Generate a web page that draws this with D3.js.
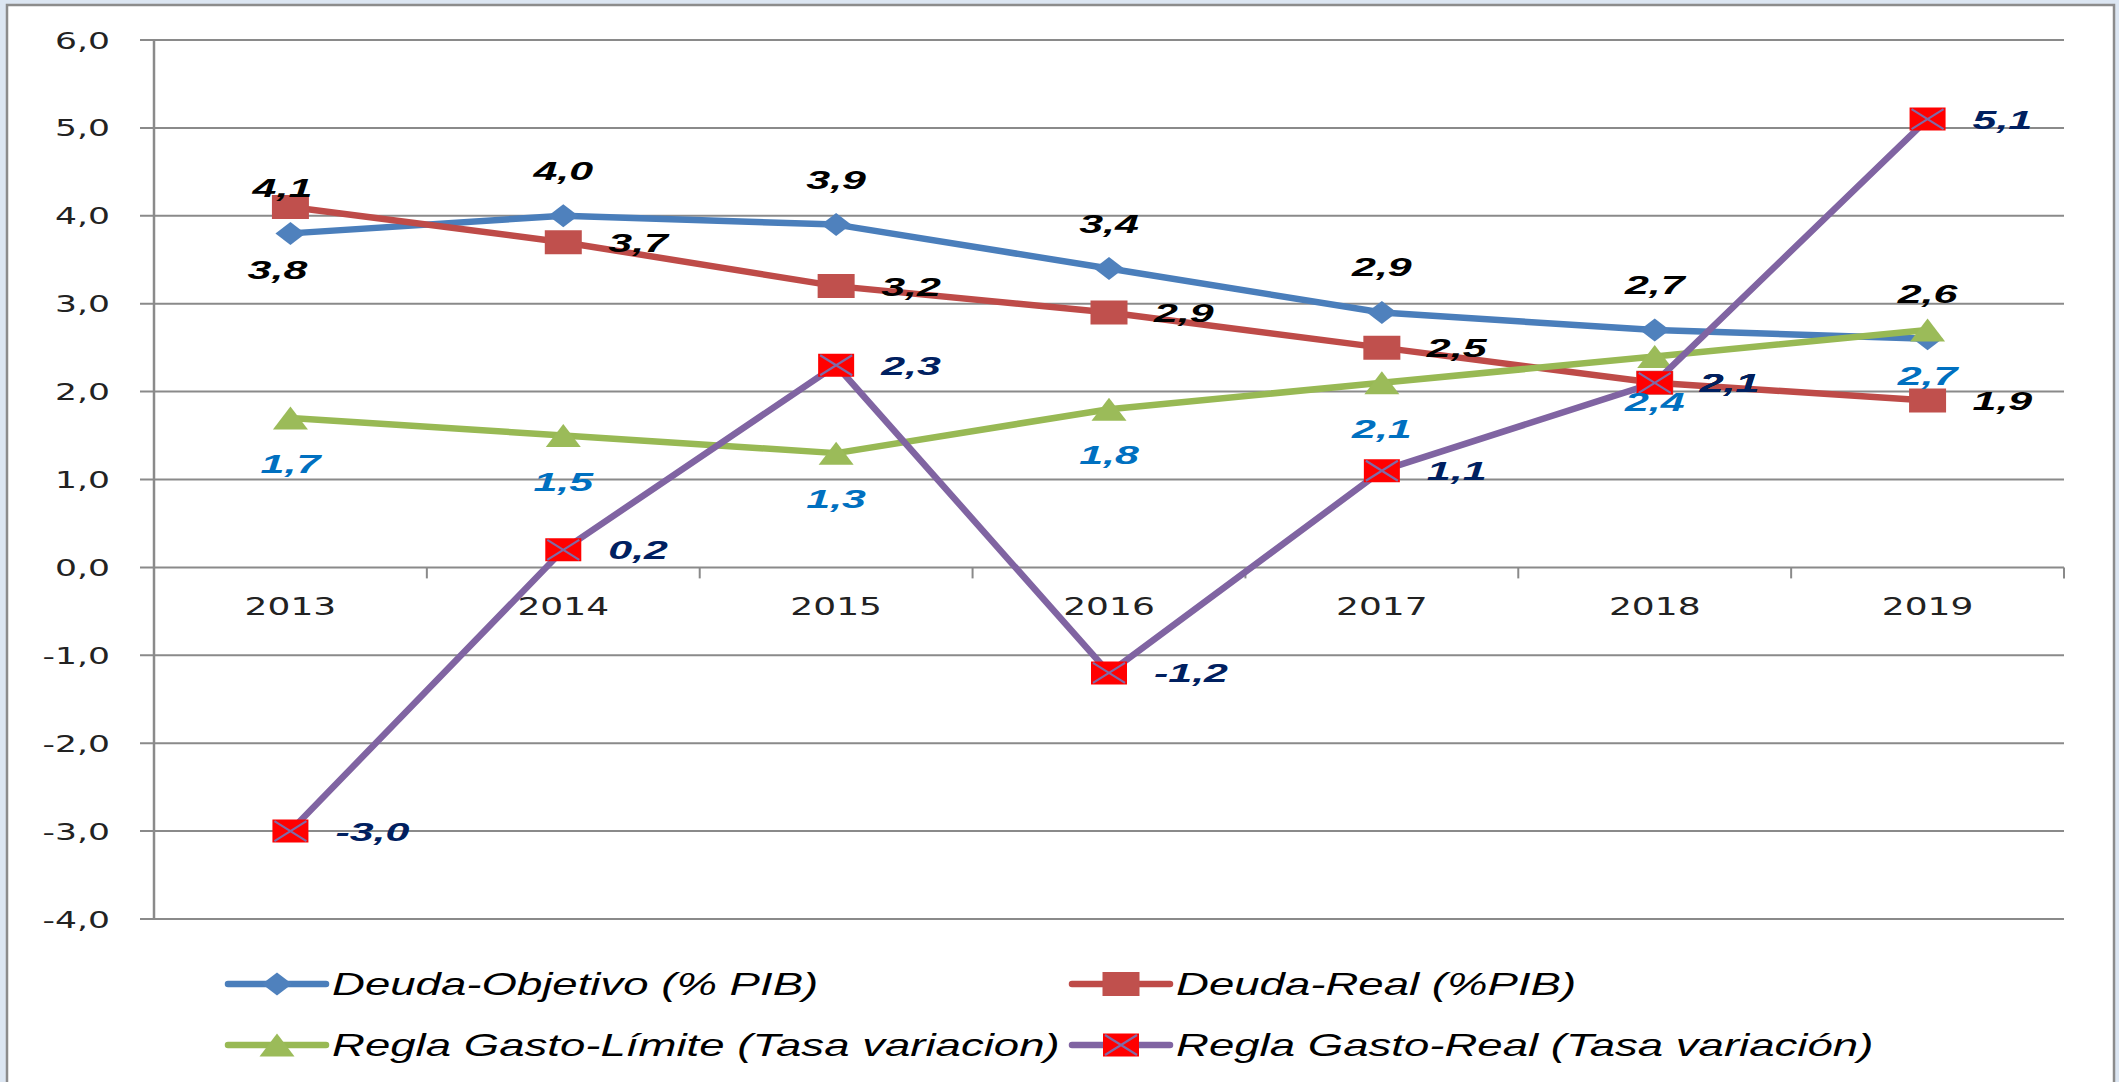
<!DOCTYPE html>
<html>
<head>
<meta charset="utf-8">
<script src="https://cdn.jsdelivr.net/npm/d3@7"></script>
<style>
  html, body { margin: 0; padding: 0; background: #dce6f2; }
  svg { display: block; }
</style>
</head>
<body>
<div id="chart"></div>
<script>
// ---------------- data ----------------
const years = ["2013", "2014", "2015", "2016", "2017", "2018", "2019"];
const deudaObjetivo = [3.8, 4.0, 3.9, 3.4, 2.9, 2.7, 2.6];
const deudaReal = [4.1, 3.7, 3.2, 2.9, 2.5, 2.1, 1.9];
const reglaLimite = [1.7, 1.5, 1.3, 1.8, 2.1, 2.4, 2.7];
const reglaReal = [-3.0, 0.2, 2.3, -1.2, 1.1, 2.1, 5.1];
const yTicks = [-4, -3, -2, -1, 0, 1, 2, 3, 4, 5, 6];
const seriesNames = [
  "Deuda-Objetivo (% PIB)",
  "Deuda-Real (%PIB)",
  "Regla Gasto-Límite (Tasa variacion)",
  "Regla Gasto-Real (Tasa variación)"
];
// where each value label sits relative to its point
const objetivoSides = ["below", "above", "above", "above", "above", "above", "above"];
const realSides = ["above", "right", "right", "right", "right", "right", "right"];
const limiteSides = ["below", "below", "below", "below", "below", "below", "below"];
const gastoRealSides = ["right", "right", "right", "right", "right", "right", "right"];

// ---------------- setup ----------------
const W = 2119, H = 1082;
const SX = 1.47;   // the original picture is stretched horizontally
const fmt = d3.formatLocale({ decimal: ",", thousands: ".", grouping: [3], currency: ["", ""], minus: "-" }).format(".1f");

const svg = d3.select("#chart").append("svg")
  .attr("width", W)
  .attr("height", H);

svg.append("rect")
  .attr("x", 7).attr("y", 5)
  .attr("width", 2107).attr("height", 1090)
  .attr("fill", "#fff")
  .attr("stroke", "#8c8c8c")
  .attr("stroke-width", 2.5);

const x = d3.scaleBand().domain(years).range([154, 2064]);
const y = d3.scaleLinear().domain([-4, 6]).range([919, 40]);
const cx = d => x(d) + x.bandwidth() / 2;

// ---------------- grid / axes ----------------
svg.append("g").selectAll("line")
  .data(yTicks)
  .enter().append("line")
    .attr("x1", 140).attr("x2", 2064)
    .attr("y1", d => y(d)).attr("y2", d => y(d))
    .attr("stroke", "#8a8a8a")
    .attr("stroke-width", 2);

svg.append("line")
  .attr("x1", 154).attr("x2", 154)
  .attr("y1", y(6)).attr("y2", y(-4))
  .attr("stroke", "#8a8a8a")
  .attr("stroke-width", 2.5);

// category boundary ticks on the zero line
svg.append("g").selectAll("line")
  .data(d3.range(years.length + 1))
  .enter().append("line")
    .attr("x1", i => 154 + i * x.step()).attr("x2", i => 154 + i * x.step())
    .attr("y1", y(0)).attr("y2", y(0) + 11)
    .attr("stroke", "#8a8a8a")
    .attr("stroke-width", 2);

svg.append("g").selectAll("text")
  .data(yTicks)
  .enter().append("text")
    .attr("transform", d => `translate(110, ${y(d) + 8.5}) scale(${SX},1)`)
    .attr("text-anchor", "end")
    .style("font-family", "'DejaVu Sans', Verdana, sans-serif")
    .style("font-size", "23.5px")
    .style("fill", "#222")
    .text(d => fmt(d));

svg.append("g").selectAll("text")
  .data(years)
  .enter().append("text")
    .attr("transform", d => `translate(${cx(d)}, 615) scale(${SX},1)`)
    .attr("text-anchor", "middle")
    .style("font-family", "'DejaVu Sans', Verdana, sans-serif")
    .style("font-size", "24.5px")
    .style("fill", "#222")
    .text(d => d);

// ---------------- markers ----------------
const markerPaths = {
  diamond: (w, h) => `M0,${-h / 2}L${w / 2},0L0,${h / 2}L${-w / 2},0Z`,
  square: (w, h) => `M${-w / 2},${-h / 2}H${w / 2}V${h / 2}H${-w / 2}Z`,
  triangle: (w, h) => `M0,${-h / 2}L${w / 2},${h / 2}L${-w / 2},${h / 2}Z`
};

function drawMarker(g, s) {
  if (s.marker === "xsquare") {
    g.append("path").attr("d", markerPaths.square(36, 23)).attr("fill", "#ff0000");
    g.append("path")
      .attr("d", "M-16,-10L16,10M-16,10L16,-10")
      .attr("stroke", "#7f6aa6")
      .attr("stroke-width", 2.2);
  } else {
    g.append("path").attr("d", markerPaths[s.marker](s.mw, s.mh)).attr("fill", s.fill);
  }
}

const series = [
  { name: seriesNames[0], values: deudaObjetivo, color: "#4a7ebb", fill: "#4f81bd", marker: "diamond", mw: 30, mh: 23,
    sides: objetivoSides, labelColor: "#000", above: -36, below: 46, belowDx: -13, aboveDx: 0 },
  { name: seriesNames[1], values: deudaReal, color: "#be4b48", fill: "#c0504d", marker: "square", mw: 37, mh: 24,
    sides: realSides, labelColor: "#000", above: -10, below: 46, belowDx: 0, aboveDx: -8 },
  { name: seriesNames[2], values: reglaLimite, color: "#98b954", fill: "#9bbb59", marker: "triangle", mw: 35, mh: 23,
    sides: limiteSides, labelColor: "#0070c0", above: -36, below: 55, belowDx: 0, aboveDx: 0 },
  { name: seriesNames[3], values: reglaReal, color: "#8064a2", fill: "#ff0000", marker: "xsquare", mw: 36, mh: 23,
    sides: gastoRealSides, labelColor: "#002060", above: -36, below: 46, belowDx: 0, aboveDx: 0 }
];

const line = d3.line()
  .x((d, i) => cx(years[i]))
  .y(d => y(d));

series.forEach(s => {
  svg.append("path")
    .datum(s.values)
    .attr("d", line)
    .attr("fill", "none")
    .attr("stroke", s.color)
    .attr("stroke-width", 6.5)
    .attr("stroke-linejoin", "round");

  svg.append("g").selectAll("g")
    .data(s.values)
    .enter().append("g")
      .attr("transform", (d, i) => `translate(${cx(years[i])}, ${y(d)})`)
      .each(function () { drawMarker(d3.select(this), s); });
});

// ---------------- value labels ----------------
series.forEach(s => {
  svg.append("g").selectAll("text")
    .data(s.values)
    .enter().append("text")
      .attr("transform", (d, i) => {
        const side = s.sides[i];
        let px = cx(years[i]), py = y(d);
        if (side === "above") { py += s.above; px += s.aboveDx; }
        else if (side === "below") { py += s.below; px += s.belowDx; }
        else { px += 45; py += 9.5; }
        return `translate(${px}, ${py}) scale(1.62,1)`;
      })
      .attr("text-anchor", (d, i) => s.sides[i] === "right" ? "start" : "middle")
      .style("font-family", "'Liberation Sans', Arial, sans-serif")
      .style("font-weight", "bold")
      .style("font-style", "italic")
      .style("font-size", "26.5px")
      .style("fill", s.labelColor)
      .text(d => fmt(d));
});

// ---------------- legend ----------------
const legendCols = [228, 1072];
const legendRows = [984, 1045];

series.forEach((s, i) => {
  const lx = legendCols[i % 2], ly = legendRows[Math.floor(i / 2)];
  const g = svg.append("g").attr("transform", `translate(${lx}, ${ly})`);
  g.append("line")
    .attr("x1", 0).attr("x2", 98)
    .attr("stroke", s.color)
    .attr("stroke-width", 6.5)
    .attr("stroke-linecap", "round");
  drawMarker(g.append("g").attr("transform", "translate(49,0)"), s);
  g.append("text")
    .attr("transform", `translate(104, 11) scale(${SX},1)`)
    .style("font-family", "'Liberation Sans', Arial, sans-serif")
    .style("font-style", "italic")
    .style("font-size", "31px")
    .style("fill", "#000")
    .text(s.name);
});
</script>
</body>
</html>
